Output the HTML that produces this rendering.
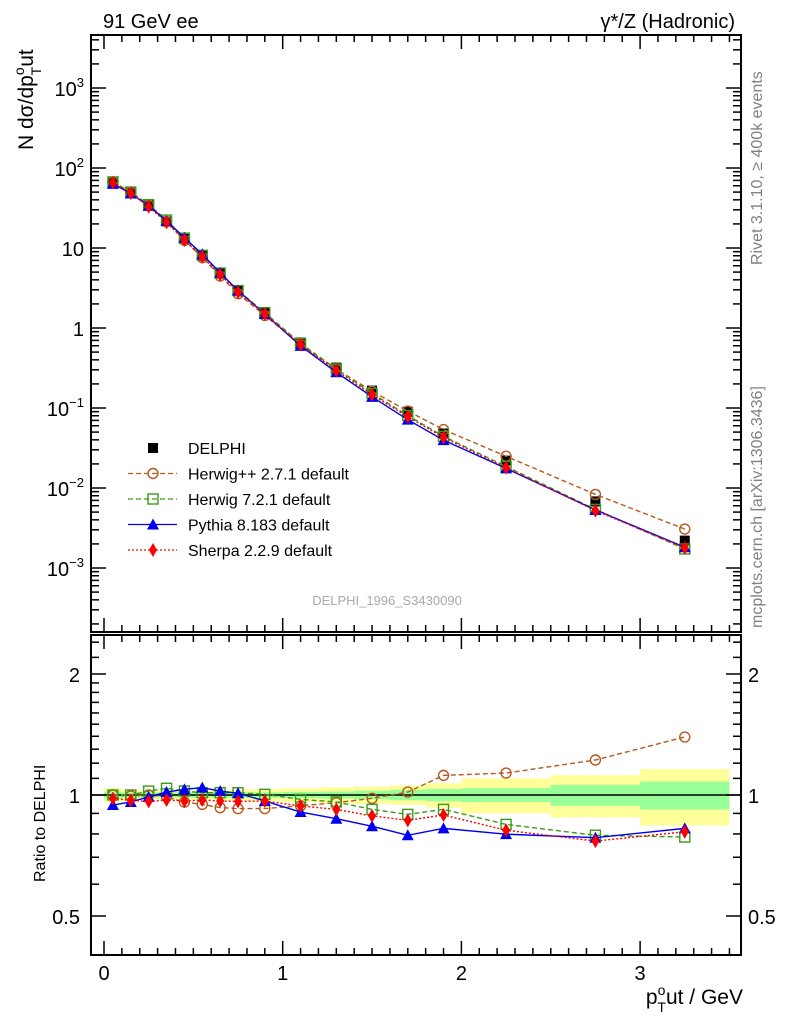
<!DOCTYPE html>
<html><head><meta charset="utf-8">
<style>
html,body{margin:0;padding:0;background:#fff;}
svg{display:block;font-family:"Liberation Sans",sans-serif;}
</style></head>
<body>
<svg id="chart" width="786" height="1024" viewBox="0 0 786 1024" xmlns="http://www.w3.org/2000/svg">
<rect width="786" height="1024" fill="#fff"/>
<g id="bands"></g>
<g id="marks"></g>
<g id="axes"></g>
<text x="103" y="28" font-size="20">91 GeV ee</text>
<text x="735" y="28" font-size="20" text-anchor="end">γ*/Z (Hadronic)</text>
<text transform="translate(33,150) rotate(-90)" font-size="21">N dσ/dp<tspan font-size="14" dy="-9">o</tspan><tspan font-size="14" dy="17" dx="-8">T</tspan><tspan dy="-8">ut</tspan></text>
<text transform="translate(45,882) rotate(-90)" font-size="16">Ratio to DELPHI</text>
<text x="743" y="1004" font-size="21" text-anchor="end">p<tspan font-size="14" dy="-9">o</tspan><tspan font-size="14" dy="17" dx="-8">T</tspan><tspan dy="-8">ut / GeV</tspan></text>
<text transform="translate(762,265) rotate(-90)" font-size="16" fill="#808080">Rivet 3.1.10, ≥ 400k events</text>
<text transform="translate(762,628) rotate(-90)" font-size="16" fill="#808080">mcplots.cern.ch [arXiv:1306.3436]</text>
<text x="387" y="605" font-size="13" fill="#aaa" text-anchor="middle">DELPHI_1996_S3430090</text>
<g id="legend"></g>
</svg>
<script>
const xCenters=[0.05,0.15,0.25,0.35,0.45,0.55,0.65,0.75,0.9,1.1,1.3,1.5,1.7,1.9,2.25,2.75,3.25];
const binLow=[0,0.1,0.2,0.3,0.4,0.5,0.6,0.7,0.8,1.0,1.2,1.4,1.6,1.8,2.0,2.5,3.0];
const binHigh=[0.1,0.2,0.3,0.4,0.5,0.6,0.7,0.8,1.0,1.2,1.4,1.6,1.8,2.0,2.5,3.0,3.5];
const delphi=[67,50,34,21.5,13,8,4.8,2.9,1.55,0.66,0.32,0.165,0.09,0.048,0.022,0.0068,0.0022];
const statErr=[0.02,0.015,0.015,0.015,0.015,0.015,0.015,0.015,0.015,0.018,0.02,0.025,0.03,0.035,0.04,0.06,0.08];
const totErr=[0.04,0.03,0.025,0.025,0.025,0.025,0.03,0.03,0.035,0.04,0.045,0.05,0.055,0.07,0.1,0.12,0.16];
const rHerwigpp=[1.0,0.995,1.0,0.99,0.96,0.948,0.93,0.925,0.925,0.94,0.957,0.981,1.017,1.119,1.134,1.222,1.394];
const rHerwig7=[1.0,1.0,1.023,1.039,1.023,1.013,1.013,1.013,1.004,0.975,0.961,0.921,0.895,0.921,0.845,0.794,0.786];
const rPythia=[0.944,0.961,0.989,1.017,1.033,1.043,1.023,1.01,0.966,0.907,0.873,0.836,0.794,0.826,0.799,0.783,0.826];
const rSherpa=[0.981,0.97,0.964,0.972,0.966,0.972,0.966,0.964,0.966,0.939,0.921,0.887,0.865,0.892,0.817,0.768,0.81];
const xTicks=[0,1,2,3];
const yTicksMain=[-3,-2,-1,0,1,2,3];
const yTickLabels=["10<tspan dy='-9' font-size='13'>−3</tspan>","10<tspan dy='-9' font-size='13'>−2</tspan>","10<tspan dy='-9' font-size='13'>−1</tspan>","1","10","10<tspan dy='-9' font-size='13'>2</tspan>","10<tspan dy='-9' font-size='13'>3</tspan>"];
const ratioTicks=[0.5,1,2];

const NS="http://www.w3.org/2000/svg";
const L=91,R=741,T1=35,B1=632,T2=635,B2=955;
const X=v=>104+v*178.7;
const Y=v=>328-80*Math.log10(v);
const YR=v=>795-121*Math.log2(v);
function mk(tag,attrs,parent){const e=document.createElementNS(NS,tag);for(const k in attrs)e.setAttribute(k,attrs[k]);parent.appendChild(e);return e;}
const bands=document.getElementById('bands'),marks=document.getElementById('marks'),axes=document.getElementById('axes'),legend=document.getElementById('legend');

binLow.forEach((lo,i)=>{
  let r=mk('rect',{x:X(lo),y:YR(1+totErr[i]),width:X(binHigh[i])-X(lo),height:YR(1-totErr[i])-YR(1+totErr[i]),fill:'#ffff99'},bands);
  
  
  let g=mk('rect',{x:X(lo),y:YR(1+statErr[i]),width:X(binHigh[i])-X(lo),height:YR(1-statErr[i])-YR(1+statErr[i]),fill:'#99ff99'},bands);
  
  
});
let one=mk('line',{x1:L,x2:R,y1:YR(1),y2:YR(1),stroke:'#000','stroke-width':1.5},bands);



const series=[
 {name:'herwigpp',r:rHerwigpp,color:'#b35a1f',dash:'5,3',marker:'circle',label:'Herwig++ 2.7.1 default'},
 {name:'herwig7',r:rHerwig7,color:'#3a9a1a',dash:'5,3',marker:'square',label:'Herwig 7.2.1 default'},
 {name:'pythia',r:rPythia,color:'#0000ee',dash:'',marker:'tri',label:'Pythia 8.183 default'},
 {name:'sherpa',r:rSherpa,color:'#ff0000',dash:'2,2',marker:'diamond',label:'Sherpa 2.2.9 default'}
];
function marker(type,x,y,color,parent){
  let e;
  if(type==='circle')e=mk('circle',{cx:x,cy:y,r:5,fill:'none',stroke:color,'stroke-width':1.4},parent);
  else if(type==='square')e=mk('rect',{x:x-5,y:y-5,width:10,height:10,fill:'none',stroke:color,'stroke-width':1.4},parent);
  else if(type==='tri')e=mk('polygon',{points:`${x},${y-6} ${x-6},${y+5} ${x+6},${y+5}`,fill:color},parent);
  else if(type==='diamond')e=mk('polygon',{points:`${x},${y-7} ${x+4},${y} ${x},${y+7} ${x-4},${y}`,fill:color},parent);
  else e=mk('rect',{x:x-5,y:y-5,width:10,height:10,fill:color},parent);
  return e;
}
xCenters.forEach((x,i)=>{
  let m=marker('box',X(x),Y(delphi[i]),'#000',marks);
  
  
});
series.forEach(s=>{
  const mainPts=xCenters.map((x,i)=>X(x)+','+Y(delphi[i]*s.r[i])).join(' ');
  const ratPts=xCenters.map((x,i)=>X(x)+','+YR(s.r[i])).join(' ');
  let l1=mk('polyline',{points:mainPts,fill:'none',stroke:s.color,'stroke-width':1.4,'stroke-dasharray':s.dash},marks);
  
  
  let l2=mk('polyline',{points:ratPts,fill:'none',stroke:s.color,'stroke-width':1.4,'stroke-dasharray':s.dash},marks);
  
  
  xCenters.forEach((x,i)=>{
    let a=marker(s.marker,X(x),Y(delphi[i]*s.r[i]),s.color,marks);
    
    
    let b=marker(s.marker,X(x),YR(s.r[i]),s.color,marks);
    
    
  });
});

[[T1,B1],[T2,B2]].forEach(([t,b],k)=>{
  let f=mk('rect',{x:L,y:t,width:R-L,height:b-t,fill:'none',stroke:'#000','stroke-width':2},axes);
  
  
  for(let v=0;v<=3.5001;v+=0.1){
    const major=Math.abs(v-Math.round(v))<1e-6;
    const len=major?14:7;
    mk('line',{x1:X(v),x2:X(v),y1:b,y2:b-len,stroke:'#000','stroke-width':1.5},axes);
    mk('line',{x1:X(v),x2:X(v),y1:t,y2:t+len,stroke:'#000','stroke-width':1.5},axes);
  }
});
xTicks.forEach(v=>{
  let t=mk('text',{x:X(v),y:980,'font-size':20,'text-anchor':'middle'},axes);t.textContent=v;
  
  
});
for(let d=-4;d<=3;d++){for(let m=1;m<=9;m++){const v=m*Math.pow(10,d);const y=Y(v);if(y<T1||y>B1)continue;const len=m===1?15:8;
  mk('line',{x1:L,x2:L+len,y1:y,y2:y,stroke:'#000','stroke-width':1.5},axes);
  mk('line',{x1:R,x2:R-len,y1:y,y2:y,stroke:'#000','stroke-width':1.5},axes);}}
yTicksMain.forEach((d,i)=>{
  let t=mk('text',{x:84,y:Y(Math.pow(10,d))+8,'font-size':20,'text-anchor':'end'},axes);t.innerHTML=yTickLabels[i];
  
  
});
[0.4,0.5,0.6,0.7,0.8,0.9,1,1.1,1.2,1.3,1.4,1.5,1.6,1.7,1.8,1.9,2,2.2,2.4].forEach(v=>{const y=YR(v);if(y<T2||y>B2)return;const len=(v===0.5||v===1||v===2)?15:8;
  mk('line',{x1:L,x2:L+len,y1:y,y2:y,stroke:'#000','stroke-width':1.5},axes);
  mk('line',{x1:R,x2:R-len,y1:y,y2:y,stroke:'#000','stroke-width':1.5},axes);});
ratioTicks.forEach(v=>{
  let t=mk('text',{x:80,y:YR(v)+8,'font-size':20,'text-anchor':'end'},axes);t.textContent=v;
  
  
  let t2=mk('text',{x:748,y:YR(v)+8,'font-size':20},axes);t2.textContent=v;
  
  
});
const rows=[{marker:'box',color:'#000',dash:null,label:'DELPHI',name:'delphi'}].concat(series);
rows.forEach((s,i)=>{
  const y=448+i*25.5;
  const g=mk('g',{},legend);
  
  
  if(s.dash!==null)mk('line',{x1:128,x2:177,y1:y,y2:y,stroke:s.color,'stroke-width':1.3,'stroke-dasharray':s.dash},g);
  marker(s.marker,153,y,s.color,g);
  const t=mk('text',{x:188,y:y+6,'font-size':16},g);t.textContent=s.label;
});
</script>
</body></html>
